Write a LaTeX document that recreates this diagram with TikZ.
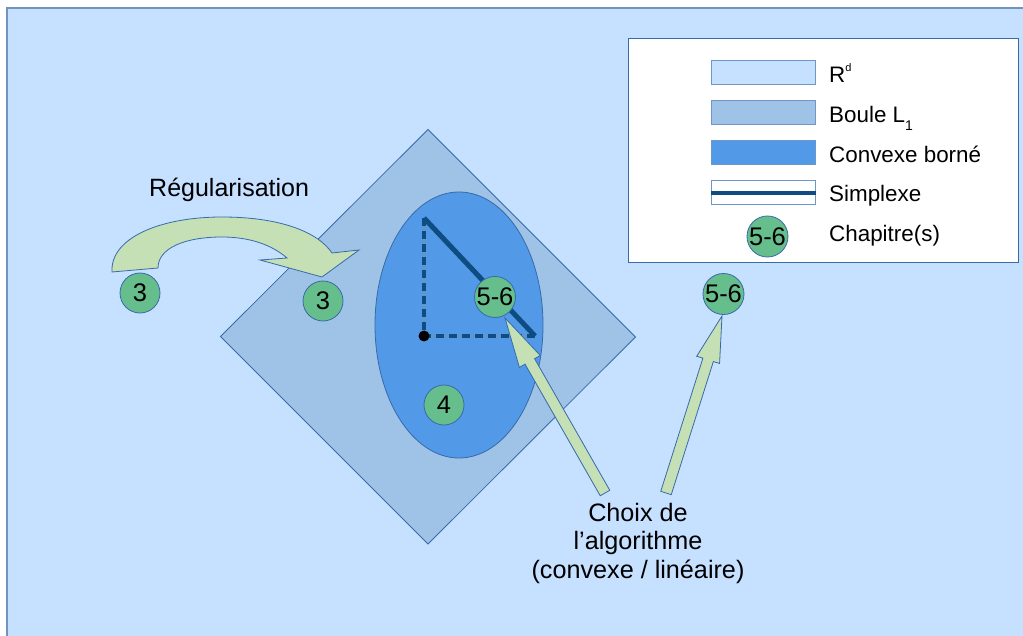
\documentclass[tikz,border=0pt]{standalone}
\usepackage{fontspec}
\setmainfont{Liberation Sans}
\usetikzlibrary{calc}
\definecolor{bgblue}{RGB}{198,224,255}
\definecolor{bgedge}{RGB}{114,147,190}
\definecolor{ballblue}{RGB}{159,195,230}
\definecolor{convblue}{RGB}{82,153,232}
\definecolor{edgeblue}{RGB}{56,106,170}
\definecolor{swedge}{RGB}{110,150,200}
\definecolor{simplexblue}{RGB}{14,76,130}
\definecolor{chapgreen}{RGB}{102,190,140}
\definecolor{arrowgreen}{RGB}{197,224,180}
\tikzset{
  chap/.style={circle, draw=edgeblue, line width=0.8pt, fill=chapgreen, minimum size=40pt, inner sep=0pt, font=\fontsize{25.5}{26}\selectfont},
  bigarrow/.style={draw=edgeblue, line width=0.8pt, fill=arrowgreen, line join=miter},
  swatch/.style={draw=swedge, line width=1pt, minimum width=104pt, minimum height=24pt, inner sep=0pt},
  legtext/.style={anchor=base west, font=\fontsize{22.4}{26}\selectfont, inner sep=0pt},
  region/.style={draw=edgeblue, line width=0.8pt},
}
\newcommand\fatarrow[5]{%
  \path ($(#2)!#5!(#1)$) coordinate (#2-h);
  \draw[bigarrow] ($(#1)!#3!90:(#2)$) -- ($(#2-h)!#3!90:(#2)$) -- ($(#2-h)!#4!90:(#2)$) -- (#2)
    -- ($(#2-h)!#4!-90:(#2)$) -- ($(#2-h)!#3!-90:(#2)$) -- ($(#1)!#3!-90:(#2)$) -- cycle;
}
\newcommand\supsm[1]{\raisebox{0.5em}{\fontsize{11}{11}\selectfont #1}}
\newcommand\subsm[1]{\raisebox{-0.35em}{\fontsize{14}{14}\selectfont #1}}
\begin{document}
\begin{tikzpicture}[x=1pt,y=-1pt]
\useasboundingbox (0,0) rectangle (1023,636);
\fill[white] (0,0) rectangle (1023,636);
\fill[bgblue] (7,8) rectangle (1023,636);
\draw[bgedge, line width=1.2pt] (7,636) -- (7,8) -- (1023,8);

% L1 ball
\draw[region, fill=ballblue] (428,129.5) -- (635.5,337) -- (428,544) -- (220.5,336.5) -- cycle;
% bounded convex set
\draw[region, fill=convblue] (459,325) ellipse [x radius=84, y radius=133];

% simplex
\coordinate (v1) at (424,218);
\coordinate (o) at (424,336);
\coordinate (v2) at (535,336);
\draw[simplexblue!60, line width=1.2pt] (v1) -- (o) -- (v2);
\draw[simplexblue, line width=4pt, dash pattern=on 8pt off 5pt] (v1) -- (o) -- (v2);
\draw[simplexblue, line width=5pt, line join=miter] (v1) -- (v2);
\fill[black] (o) circle[radius=5.5pt];

% chapters
\node[chap] (c3a) at (140,293) {3};
\node[chap] (c3b) at (323,301) {3};
\node[chap] (c56a) at (495,297) {5-6};
\node[chap] (c4) at (444,405) {4};
\node[chap] (c56b) at (723.5,294) {5-6};

% regularisation arrow
\node[anchor=base west, inner sep=0pt, font=\fontsize{25}{28}\selectfont] (reg) at (149,197) {Régularisation};
\draw[bigarrow] (112,272) .. controls (110,238) and (160,217) .. (222,217)
  .. controls (280,217) and (318,232) .. (332,253) -- (359,250) -- (322,277) -- (260,260) -- (287,258)
  .. controls (272,245) and (250,237) .. (222,237) .. controls (185,237) and (158,248) .. (158,268) -- cycle;

% algorithm choice
\node[align=center, inner sep=0pt, font=\fontsize{25.2}{28.5}\selectfont] (choix) at (638,543) {Choix de\\l’algorithme\\(convexe / linéaire)};
\coordinate (b1) at (605,493); \coordinate (t1) at (505,318);
\coordinate (b2) at (666,493); \coordinate (t2) at (722,316);
\fatarrow{b1}{t1}{5.5pt}{12pt}{50pt}
\fatarrow{b2}{t2}{5.5pt}{12pt}{46pt}

% legend
\draw[region, fill=white] (628,38) rectangle (1018,262);
\node[swatch, fill=bgblue] (sw1) at (763.7,73) {};
\node[swatch, fill=ballblue] (sw2) at (763.7,113) {};
\node[swatch, fill=convblue] (sw3) at (763.7,153) {};
\node[swatch, fill=white] (sw4) at (763.7,193) {};
\draw[simplexblue, line width=4pt] (sw4.west) -- (sw4.east);
\node[chap] (sw5) at (767.5,236.5) {5-6};
\node[legtext] (l1) at (829,83) {R\supsm{d}};
\node[legtext] (l2) at (829,122.3) {Boule L\subsm{1}};
\node[legtext] (l3) at (829,162.3) {Convexe borné};
\node[legtext] (l4) at (829,201.7) {Simplexe};
\node[legtext] (l5) at (829,241.7) {Chapitre(s)};
\end{tikzpicture}
\end{document}
